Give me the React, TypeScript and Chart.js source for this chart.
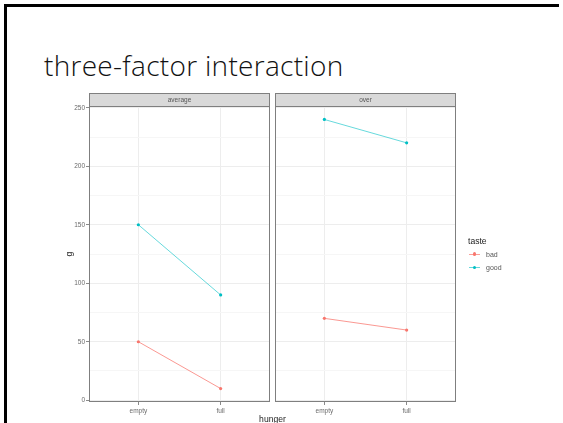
import React, { useEffect, useRef } from "react";
import { Chart, registerables } from "chart.js";

Chart.register(...registerables);

// ---- data ----
const hungerLevels = ["empty", "full"];
const facetNames = ["average", "over"];
const tasteLevels = ["bad", "good"];
const badAverage = [50, 10];
const goodAverage = [150, 90];
const badOver = [70, 60];
const goodOver = [240, 220];
const yTickValues = [0, 25, 50, 75, 100, 125, 150, 175, 200, 225, 250];
const yMajorStep = 50;

const BAD = "#F8766D";
const GOOD = "#00BFC4";
const FONT = "'Liberation Sans', Arial, sans-serif";

const panelFrame = {
  id: "panelFrame",
  afterDraw(chart: any, _args: any, opts: any) {
    const { ctx, chartArea: a } = chart;
    ctx.save();
    const sh = 13;
    const top = a.top - sh;
    ctx.fillStyle = "#D9D9D9";
    ctx.fillRect(a.left, top, a.right - a.left, sh);
    ctx.strokeStyle = "#7f7f7f";
    ctx.lineWidth = 1;
    ctx.strokeRect(a.left + 0.5, top + 0.5, a.right - a.left - 1, sh);
    ctx.fillStyle = "#555";
    ctx.font = `6.5px ${FONT}`;
    ctx.textAlign = "center";
    ctx.textBaseline = "middle";
    ctx.fillText(opts.label || "", (a.left + a.right) / 2, top + sh / 2 + 0.5);
    ctx.strokeRect(a.left + 0.5, a.top + 0.5, a.right - a.left - 1, a.bottom - a.top - 1);
    ctx.restore();
  },
};

function toPoints(vals: number[]) {
  return vals.map((v, i) => ({ x: i + 1, y: v }));
}

function Panel(props: {
  facet: string;
  bad: number[];
  good: number[];
  showY: boolean;
  left: number;
  width: number;
  padLeft: number;
  padRight: number;
}) {
  const ref = useRef<HTMLCanvasElement>(null);
  useEffect(() => {
    const { facet, bad, good, showY, padLeft, padRight } = props;
    const mk = (color: string, alphaLine: string, vals: number[], label: string) => ({
      label,
      data: toPoints(vals),
      borderColor: alphaLine,
      backgroundColor: color,
      pointBackgroundColor: color,
      pointBorderColor: color,
      pointRadius: 1.6,
      pointBorderWidth: 0,
      borderWidth: 1,
      showLine: true,
      tension: 0,
    });
    const chart = new Chart(ref.current as HTMLCanvasElement, {
      type: "scatter",
      data: {
        datasets: [
          mk(BAD, "rgba(248,118,109,0.75)", bad, tasteLevels[0]),
          mk(GOOD, "rgba(0,191,196,0.6)", good, tasteLevels[1]),
        ],
      },
      options: {
        animation: false,
        responsive: false,
        maintainAspectRatio: false,
        layout: { padding: { top: 18, right: padRight, left: padLeft, bottom: 0 } },
        plugins: {
          legend: { display: false },
          tooltip: { enabled: false },
          panelFrame: { label: facet },
        } as any,
        scales: {
          x: {
            type: "linear",
            min: 0.4,
            max: 2.6,
            afterBuildTicks: (s: any) => {
              s.ticks = hungerLevels.map((_, i) => ({ value: i + 1 }));
            },
            afterFit: (s: any) => {
              s.height = 21;
            },
            border: { display: false },
            grid: {
              color: "#EDEDED",
              lineWidth: 1,
              drawTicks: true,
              tickLength: 3,
              tickColor: "#8a8a8a",
            },
            ticks: {
              padding: 2,
              color: "#6a6a6a",
              font: { family: FONT, size: 6.5 },
              callback: (v: any) => hungerLevels[Math.round(v) - 1] ?? "",
            },
          },
          y: {
            type: "linear",
            min: -1.5,
            max: 251.5,
            afterBuildTicks: (s: any) => {
              s.ticks = yTickValues.map((v) => ({ value: v }));
            },
            afterFit: (s: any) => {
              s.width = showY ? 49 : 0;
            },
            border: { display: false },
            grid: {
              color: (c: any) => (c.tick && c.tick.value % yMajorStep === 0 ? "#EDEDED" : "#F6F6F6"),
              lineWidth: 1,
              drawTicks: showY,
              tickLength: 3,
              tickColor: (c: any) =>
                c.tick && c.tick.value % yMajorStep === 0 ? "#8a8a8a" : "rgba(0,0,0,0)",
            },
            ticks: {
              display: showY,
              padding: 1,
              color: "#6a6a6a",
              font: { family: FONT, size: 6.5 },
              autoSkip: false,
              callback: (v: any) => (v % yMajorStep === 0 ? String(v) : ""),
            },
          },
        },
      },
      plugins: [panelFrame],
    } as any);
    return () => chart.destroy();
  }, []);
  return (
    <canvas
      ref={ref}
      width={props.width}
      height={335}
      style={{ position: "absolute", left: props.left, top: 88, width: props.width, height: 335 }}
    />
  );
}

export default function App() {
  return (
    <div
      style={{
        position: "fixed",
        left: 0,
        top: 0,
        width: 563,
        height: 423,
        background: "#fff",
        overflow: "hidden",
        fontFamily: FONT,
      }}
    >
      <div style={{ position: "absolute", left: 4, top: 4, width: 555, height: 3, background: "#000" }} />
      <div style={{ position: "absolute", left: 4, top: 4, width: 3, height: 419, background: "#000" }} />
      <div
        style={{
          position: "absolute",
          left: 44,
          top: 47,
          fontFamily: "'Open Sans', Lato, sans-serif",
          fontWeight: 300,
          fontSize: 28,
          letterSpacing: 0.3,
          lineHeight: "36px",
          color: "#111",
          whiteSpace: "nowrap",
        }}
      >
        three-factor interaction
      </div>
      <Panel facet={facetNames[0]} bad={badAverage} good={goodAverage} showY={true} left={40} width={235} padLeft={0} padRight={5} />
      <Panel facet={facetNames[1]} bad={badOver} good={goodOver} showY={false} left={270} width={191} padLeft={5} padRight={5} />
      <div
        style={{
          position: "absolute",
          left: 69,
          top: 254,
          transform: "translate(-50%,-50%) rotate(-90deg)",
          fontSize: 8.6,
          color: "#222",
          lineHeight: "10px",
        }}
      >
        g
      </div>
      <div
        style={{
          position: "absolute",
          left: 272.5,
          top: 419,
          transform: "translate(-50%,-50%)",
          fontSize: 8.6,
          color: "#222",
          lineHeight: "10px",
          whiteSpace: "nowrap",
        }}
      >
        hunger
      </div>
      <div style={{ position: "absolute", left: 468, top: 235.5, fontSize: 8.6, lineHeight: "10px", color: "#222" }}>
        taste
      </div>
      {tasteLevels.map((t, i) => {
        const cy = 254 + i * 13.6;
        const col = i === 0 ? BAD : GOOD;
        return (
          <React.Fragment key={t}>
            <div
              style={{
                position: "absolute",
                left: 469,
                top: cy - 0.5,
                width: 11,
                height: 1,
                background: i === 0 ? "rgba(248,118,109,0.7)" : "rgba(0,191,196,0.6)",
              }}
            />
            <div
              style={{
                position: "absolute",
                left: 474.5 - 1.6,
                top: cy - 1.6,
                width: 3.2,
                height: 3.2,
                borderRadius: "50%",
                background: col,
              }}
            />
            <div
              style={{
                position: "absolute",
                left: 486,
                top: cy - 4.5,
                fontSize: 7,
                lineHeight: "9px",
                color: "#555",
              }}
            >
              {t}
            </div>
          </React.Fragment>
        );
      })}
    </div>
  );
}
